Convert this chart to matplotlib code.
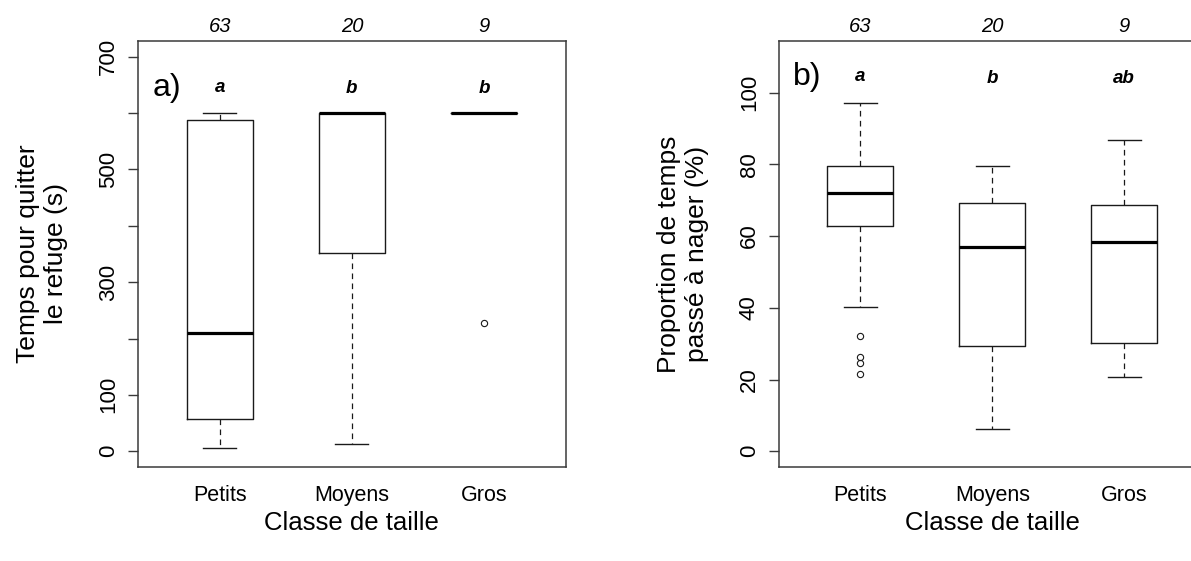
import matplotlib
matplotlib.use("Agg")
import matplotlib.pyplot as plt
import matplotlib.transforms as mtransforms
from matplotlib.textpath import TextPath
from matplotlib.font_manager import FontProperties

plt.rcParams['font.family'] = ['Liberation Sans', 'DejaVu Sans']

categories = ["Petits", "Moyens", "Gros"]
group_sizes = [63, 20, 9]

# Temps pour quitter le refuge (s)
refuge_whislo = [5, 13, 600]
refuge_q1 = [57, 352, 600]
refuge_med = [210, 600, 600]
refuge_q3 = [588, 600, 600]
refuge_whishi = [600, 600, 600]
refuge_fliers = [[], [], [228]]
refuge_letters = ["a", "b", "b"]
refuge_ticks = [0, 100, 200, 300, 400, 500, 600, 700]
refuge_ticklabels = ["0", "100", "", "300", "", "500", "", "700"]

# Proportion de temps passé à nager (%)
swim_whislo = [40.2, 6.2, 20.8]
swim_q1 = [62.9, 29.4, 30.2]
swim_med = [71.9, 56.9, 58.4]
swim_q3 = [79.5, 69.3, 68.7]
swim_whishi = [97.1, 79.5, 86.8]
swim_fliers = [[32.1, 26.4, 24.5, 21.5], [], []]
swim_letters = ["a", "b", "ab"]
swim_ticks = [0, 20, 40, 60, 80, 100]
swim_ticklabels = ["0", "20", "40", "60", "80", "100"]

W, H = 1191, 561
fig = plt.figure(figsize=(W / 100, H / 100), dpi=100)

FRAME = "#3a3a3a"
INK = "#1a1a1a"


def build_stats(lo, q1, med, q3, hi, fliers):
    return [dict(whislo=a, q1=b, med=c, q3=d, whishi=e, fliers=f)
            for a, b, c, d, e, f in zip(lo, q1, med, q3, hi, fliers)]


def ink_centered(ax, x, yfrac, s, fp):
    ext = TextPath((0, 0), s, prop=fp).get_extents()
    dy = -(ext.y0 + ext.y1) / 2.0
    trans = (mtransforms.blended_transform_factory(ax.transData, ax.transAxes)
             + mtransforms.ScaledTranslation(0, dy / 72.0, fig.dpi_scale_trans))
    ax.text(x, yfrac, s, transform=trans, ha="center", va="baseline",
            fontproperties=fp, color="black")


def panel(rect, stats, ylim, ticks, ticklabels, ylabel, tag, tag_y,
          letters, letter_y):
    ax = fig.add_axes(rect)
    pos = [1, 2, 3]
    ax.bxp(stats, positions=pos, widths=0.5, showfliers=True,
           boxprops=dict(color=INK, lw=1.0),
           whiskerprops=dict(color=INK, lw=0.9, linestyle=(0, (4.5, 3.5))),
           capprops=dict(color=INK, lw=1.0),
           medianprops=dict(color="black", lw=2.3, solid_capstyle="butt"),
           flierprops=dict(marker="o", markerfacecolor="none",
                           markeredgecolor=INK, markersize=4.5,
                           markeredgewidth=0.8))
    lo, hi = ylim
    r = hi - lo
    ax.set_ylim(lo - 0.04 * r, hi + 0.04 * r)
    ax.set_xlim(0.38, 3.62)

    ax.set_yticks(ticks)
    ax.set_yticklabels(ticklabels)
    ax.tick_params(axis="y", length=7.5, width=1.0, color=FRAME, pad=6,
                   labelsize=16, labelrotation=90)
    for lab in ax.get_yticklabels():
        lab.set_verticalalignment("center")
    ax.set_xticks(pos)
    ax.set_xticklabels(categories)
    ax.tick_params(axis="x", length=0, pad=13, labelsize=15.5)

    for sp in ax.spines.values():
        sp.set_color(FRAME)
        sp.set_linewidth(1.1)

    ax.set_ylabel(ylabel, fontsize=19, linespacing=1.2, va="center",
                  ha="center")
    ax.yaxis.set_label_coords(-0.225, 0.5)
    ax.set_xlabel("Classe de taille", fontsize=18.5, va="center")
    ax.xaxis.set_label_coords(0.5, -0.131)

    top = mtransforms.blended_transform_factory(ax.transData, ax.transAxes)
    for p, n in zip(pos, group_sizes):
        ax.text(p, 1.021, str(n), transform=top, ha="center", va="baseline",
                fontsize=14.5, style="italic")

    fp = FontProperties(family="Liberation Sans", style="italic",
                        weight="bold", size=13.5)
    for p, s in zip(pos, letters):
        ink_centered(ax, p, letter_y, s, fp)

    ax.text(0.034, tag_y, tag, transform=ax.transAxes, ha="left",
            va="baseline", fontsize=23)
    return ax


ax_a = panel([138 / W, 94 / H, 427.8 / W, 426 / H],
             build_stats(refuge_whislo, refuge_q1, refuge_med, refuge_q3,
                         refuge_whishi, refuge_fliers),
             (0, 700), refuge_ticks, refuge_ticklabels,
             "Temps pour quitter\nle refuge (s)", "a)", 0.871,
             refuge_letters, 0.893)

ax_b = panel([778.7 / W, 94 / H, 427.1 / W, 426 / H],
             build_stats(swim_whislo, swim_q1, swim_med, swim_q3,
                         swim_whishi, swim_fliers),
             (0, 110), swim_ticks, swim_ticklabels,
             "Proportion de temps\npassé à nager (%)", "b)", 0.897,
             swim_letters, 0.9167)

fig.savefig("out.png", dpi=100)
